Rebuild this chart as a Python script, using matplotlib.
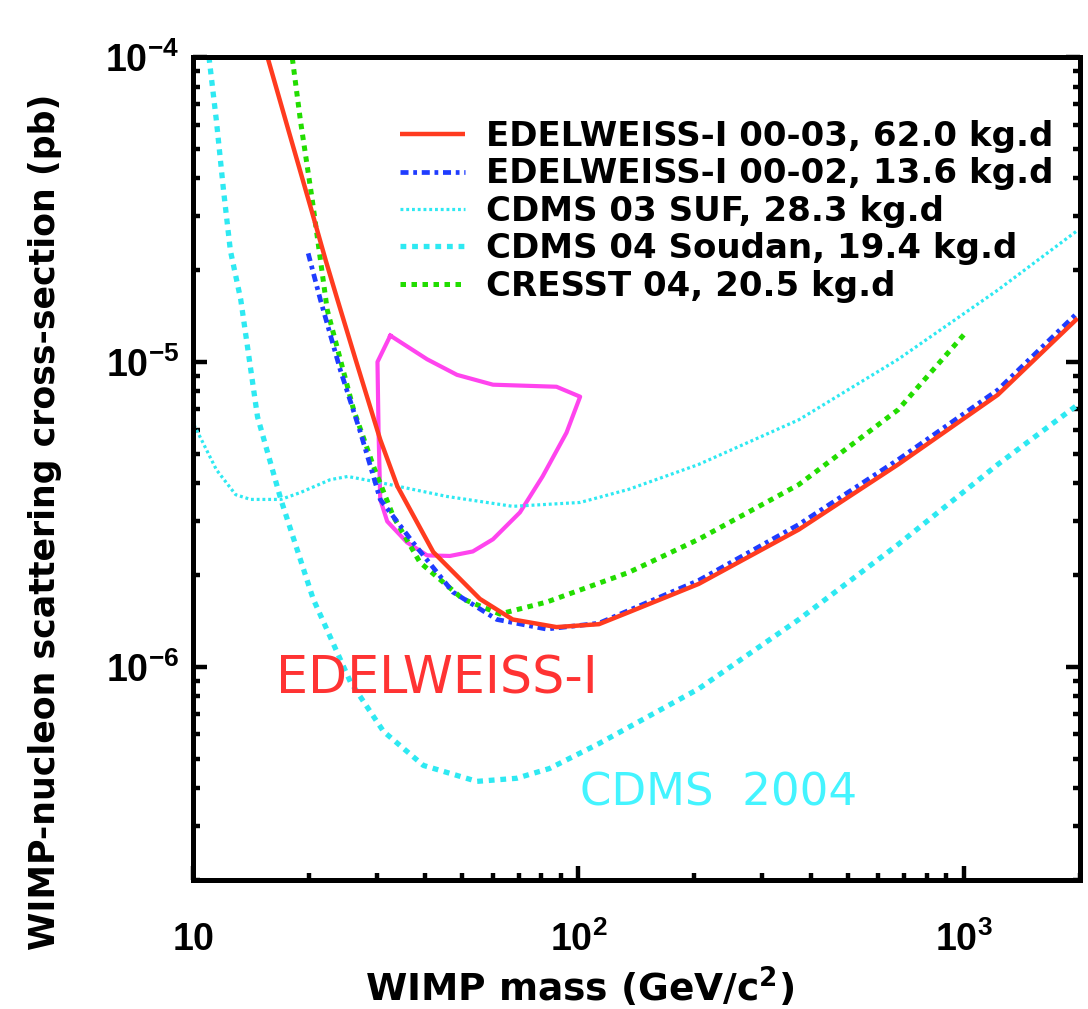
import math
import matplotlib
matplotlib.use("Agg")
import matplotlib.pyplot as plt
from matplotlib.ticker import LogLocator, FuncFormatter, NullFormatter

plt.rcParams['font.family'] = ['Liberation Sans', 'DejaVu Sans']
plt.rcParams['mathtext.fontset'] = 'custom'
plt.rcParams['mathtext.rm'] = 'Liberation Sans:bold'
plt.rcParams['mathtext.bf'] = 'Liberation Sans:bold'
plt.rcParams['mathtext.it'] = 'Liberation Sans:bold'

# --- data (mass in GeV/c^2, cross-section in pb) ---
edw0003_m = [15.6, 17.7, 20.3, 22.1, 23.7, 26.4, 30.6, 33.9, 42.0, 55.5, 67.5, 87.7,
             113, 135, 205, 373, 675, 1224, 1972]
edw0003_s = [1.0e-4, 5.73e-5, 3.14e-5, 2.15e-5, 1.60e-5, 1.02e-5, 5.56e-6, 3.91e-6, 2.38e-6,
             1.67e-6, 1.43e-6, 1.35e-6, 1.38e-6, 1.51e-6, 1.87e-6, 2.82e-6, 4.61e-6, 7.80e-6, 1.39e-5]

edw0002_m = [19.9, 21.4, 24.1, 27.2, 30.6, 37.2, 47.2, 61.4, 82.6, 113, 205, 373, 675, 1224, 1972]
edw0002_s = [2.27e-5, 1.60e-5, 9.42e-6, 5.86e-6, 3.54e-6, 2.56e-6, 1.76e-6, 1.43e-6, 1.33e-6,
             1.39e-6, 1.92e-6, 2.93e-6, 4.78e-6, 8.09e-6, 1.45e-5]

cdms_suf_m = [10.06, 11.5, 12.9, 14.1, 16.9, 19.0, 22.7, 25.2, 30.6, 45.6, 67.5, 101, 135,
              205, 373, 675, 1224, 1972]
cdms_suf_s = [6.22e-6, 4.43e-6, 3.67e-6, 3.54e-6, 3.54e-6, 3.73e-6, 4.11e-6, 4.21e-6, 4.02e-6,
              3.62e-6, 3.36e-6, 3.46e-6, 3.82e-6, 4.61e-6, 6.46e-6, 1.02e-5, 1.72e-5, 2.70e-5]

cdms_soudan_m = [11.0, 11.5, 12.0, 12.5, 13.3, 14.7, 16.9, 20.5, 25.6, 31.2, 39.6, 54.5, 69.1,
                 84.1, 113, 205, 373, 675, 1224, 1972]
cdms_soudan_s = [1.0e-4, 6.18e-5, 3.65e-5, 2.32e-5, 1.60e-5, 6.61e-6, 3.54e-6, 1.67e-6, 8.93e-7,
                 6.14e-7, 4.75e-7, 4.21e-7, 4.31e-7, 4.64e-7, 5.60e-7, 8.47e-7, 1.43e-6, 2.52e-6,
                 4.61e-6, 7.23e-6]

cresst_m = [18.1, 19.0, 20.4, 22.3, 26.1, 29.4, 33.1, 38.8, 50.1, 62.5, 82.6, 135, 205, 373, 675, 1012]
cresst_s = [9.9e-5, 6.18e-5, 3.38e-5, 1.48e-5, 6.97e-6, 4.54e-6, 3.11e-6, 2.20e-6, 1.67e-6,
            1.49e-6, 1.63e-6, 2.04e-6, 2.62e-6, 3.96e-6, 6.97e-6, 1.25e-5]

dama_m = [32.5, 40.5, 48.4, 60.0, 87.7, 101, 93.1, 80.7, 70.5, 60.0, 53.2, 46.4, 40.5, 35.9,
          31.9, 30.6, 30.3, 30.1, 32.5]
dama_s = [1.22e-5, 1.02e-5, 9.07e-6, 8.42e-6, 8.29e-6, 7.69e-6, 5.86e-6, 4.21e-6, 3.21e-6,
          2.62e-6, 2.39e-6, 2.31e-6, 2.32e-6, 2.56e-6, 3.00e-6, 3.54e-6, 5.86e-6, 1.00e-5, 1.22e-5]

labels = ["EDELWEISS-I 00-03, 62.0 kg.d", "EDELWEISS-I 00-02, 13.6 kg.d",
          "CDMS 03 SUF, 28.3 kg.d", "CDMS 04 Soudan, 19.4 kg.d", "CRESST 04, 20.5 kg.d"]

red = '#ff3b1f'
blue = '#1f3cff'
cyan = '#2ee9f2'
green = '#22dd00'
magenta = '#ff44ee'

fig = plt.figure(figsize=(10.88, 10.09), dpi=100)
ax = fig.add_axes([0.1774, 0.1279, 0.8152, 0.8156])
ax.set_xscale('log')
ax.set_yscale('log')

ax.plot(dama_m, dama_s, color=magenta, lw=3.0, zorder=2)
l_suf, = ax.plot(cdms_suf_m, cdms_suf_s, color=cyan, lw=2.3, dashes=(0.9, 0.9))
l_soudan, = ax.plot(cdms_soudan_m, cdms_soudan_s, color=cyan, lw=3.8, dashes=(1.1, 1.1))
l_cresst, = ax.plot(cresst_m, cresst_s, color=green, lw=3.6, dashes=(1.1, 1.1))
l_0002, = ax.plot(edw0002_m, edw0002_s, color=blue, lw=3.4, dashes=(1.7, 1.0, 0.8, 1.0))
l_0003, = ax.plot(edw0003_m, edw0003_s, color=red, lw=3.2, solid_capstyle='butt')

ax.set_xlim(10, 2000)
ax.set_ylim(2e-7, 1e-4)

ax.text(43, 9.1e-7, "EDELWEISS-I", color='#ff3333', fontsize=36.5,
        family='DejaVu Sans', ha='center', va='center')
ax.text(231, 3.85e-7, "CDMS  2004", color='#44f4ff', fontsize=32.5,
        family='DejaVu Sans', ha='center', va='center')

for sp in ax.spines.values():
    sp.set_linewidth(3.6)

ax.xaxis.set_major_locator(LogLocator(base=10, numticks=10))
ax.xaxis.set_minor_locator(LogLocator(base=10, subs=range(2, 10), numticks=20))
ax.yaxis.set_major_locator(LogLocator(base=10, numticks=10))
ax.yaxis.set_minor_locator(LogLocator(base=10, subs=range(2, 10), numticks=20))


def xfmt(v, pos):
    if abs(v - 10) < 1e-6:
        return r'$\mathrm{10}$'
    return r'$\mathrm{10^{%d}}$' % round(math.log10(v))


def yfmt(v, pos):
    return r'$\mathrm{10^{%d}}$' % round(math.log10(v))


ax.xaxis.set_major_formatter(FuncFormatter(xfmt))
ax.yaxis.set_major_formatter(FuncFormatter(yfmt))
ax.xaxis.set_minor_formatter(NullFormatter())
ax.yaxis.set_minor_formatter(NullFormatter())

ax.tick_params(which='both', direction='in', left=True, right=True, bottom=True, top=False,
               width=3.2, labelsize=27)
ax.tick_params(which='major', length=10)
ax.tick_params(which='minor', length=5)
ax.tick_params(axis='x', pad=30)
ax.tick_params(axis='y', pad=10)

ax.set_xlabel("WIMP mass (GeV/c$^{\\mathregular{2}}$)", fontsize=27, fontweight='bold',
              family='DejaVu Sans')
ax.set_ylabel("WIMP-nucleon scattering cross-section (pb)", fontsize=25, fontweight='bold',
              family='DejaVu Sans')
ax.xaxis.set_label_coords(0.436, -0.104)
ax.yaxis.set_label_coords(-0.148, 0.435)

leg = ax.legend([l_0003, l_0002, l_suf, l_soudan, l_cresst], labels,
                loc='upper right', bbox_to_anchor=(0.985, 0.94), frameon=False,
                borderaxespad=0, handlelength=1.9, handletextpad=0.6, labelspacing=0.13,
                prop={'size': 24.5, 'weight': 'bold', 'family': 'DejaVu Sans'})

fig.savefig('out.png', dpi=100)
